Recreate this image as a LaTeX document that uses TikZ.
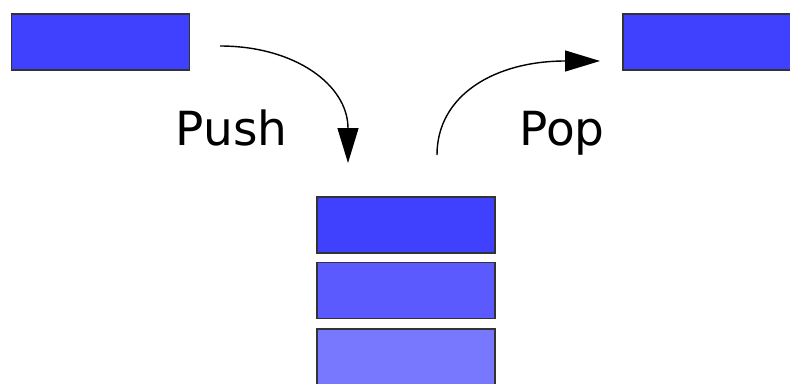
\documentclass[tikz,border=0pt]{standalone}
\usepackage{fontspec}
\setmainfont{DejaVu Sans}
\usetikzlibrary{arrows.meta}
\definecolor{itemA}{HTML}{4040FF}
\definecolor{itemB}{HTML}{5A5AFF}
\definecolor{itemC}{HTML}{7878FF}
\definecolor{edgegray}{HTML}{333333}
\tikzset{
  item/.style={draw=edgegray, line width=1.5pt, minimum width=178pt,
    minimum height=56pt, inner sep=0pt, outer sep=0pt},
  label/.style={font=\fontsize{47}{48}\selectfont, inner sep=0pt, anchor=base},
  flow/.style={line width=1.4pt, -{Triangle[length=35pt,width=21pt]}}
}
\begin{document}
\begin{tikzpicture}[x=1pt,y=-1pt]
  \useasboundingbox (0,0) rectangle (790,383);
  \clip (0,0) rectangle (790,383);
  \fill[white] (0,0) rectangle (790,383);

  % element waiting to be pushed, and element that was popped
  \node[item, fill=itemA] (incoming) at (100.5,42) {};
  \node[item, fill=itemA] (outgoing) at (712,42) {};

  % the stack, top to bottom
  \node[item, fill=itemA] (top) at (406,225) {};
  \node[item, fill=itemB] (second) at (406,290.5) {};
  \node[item, fill=itemC] (third) at (406,357) {};

  % operation labels
  \node[label] (pushlbl) at (231.5,145) {Push};
  \node[label] (poplbl) at (562,145) {Pop};

  % arrow end points
  \coordinate (pushstart) at (220,46);
  \coordinate (pushend) at (348,163);
  \coordinate (popstart) at (437,155);
  \coordinate (popend) at (600,61);

  \draw[flow] (pushstart) .. controls (295,46) and (348,85) .. (pushend);
  \draw[flow] (popstart) .. controls (437,95) and (495,61) .. (popend);
\end{tikzpicture}
\end{document}
